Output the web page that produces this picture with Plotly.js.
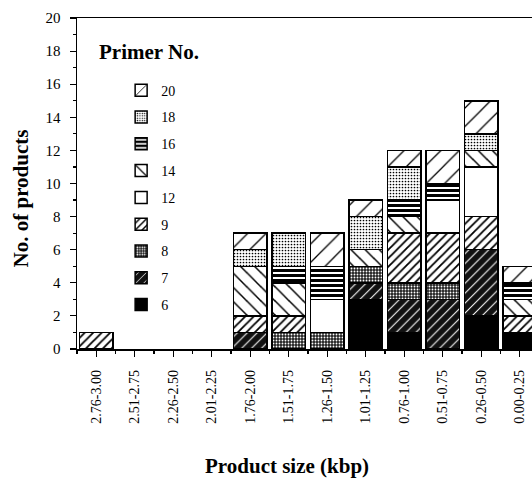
<!DOCTYPE html>
<html>
<head>
<meta charset="utf-8">
<script src="https://cdn.plot.ly/plotly-3.0.1.min.js"></script>
<style>
html,body{margin:0;padding:0;background:#fff;overflow:hidden;}
#chart{width:532px;height:479px;}
</style>
</head>
<body>
<div id="chart"></div>
<script>
// Product size classes (kbp)
const categories = ['2.76-3.00','2.51-2.75','2.26-2.50','2.01-2.25','1.76-2.00','1.51-1.75','1.26-1.50','1.01-1.25','0.76-1.00','0.51-0.75','0.26-0.50','0.00-0.25'];
// Number of products per primer (stacked bottom -> top: 6,7,8,9,12,14,16,18,20)
const primer6  = [null,null,null,null,null,null,null,3,1,null,2,1];
const primer7  = [null,null,null,null,1,null,null,1,2,3,4,null];
const primer8  = [null,null,null,null,null,1,1,1,1,1,null,null];
const primer9  = [1,null,null,null,1,1,null,null,3,3,2,1];
const primer12 = [null,null,null,null,null,null,2,null,null,2,3,null];
const primer14 = [null,null,null,null,3,2,null,1,1,null,1,1];
const primer16 = [null,null,null,null,null,1,2,null,1,1,null,1];
const primer18 = [null,null,null,null,1,2,null,2,2,null,1,null];
const primer20 = [null,null,null,null,1,null,2,1,1,2,2,1];
const primerNames = ['6','7','8','9','12','14','16','18','20'];
const yTicks = [0,2,4,6,8,10,12,14,16,18,20];

const series = [primer6,primer7,primer8,primer9,primer12,primer14,primer16,primer18,primer20];
const styles = {
  '6':  {color:'#000000', pattern:{shape:'', bgcolor:'#000000'}},
  '7':  {color:'#1a1a1a', pattern:{shape:'/', fgcolor:'#ffffff', bgcolor:'#111111', size:7, solidity:0.15}},
  '8':  {color:'#555555', pattern:{shape:'.', fgcolor:'#ffffff', bgcolor:'#222222', size:3, solidity:0.3}},
  '9':  {color:'#ffffff', pattern:{shape:'/', fgcolor:'#000000', bgcolor:'#ffffff', size:6, solidity:0.3}},
  '12': {color:'#ffffff', pattern:{shape:'', bgcolor:'#ffffff'}},
  '14': {color:'#ffffff', pattern:{shape:'\\', fgcolor:'#000000', bgcolor:'#ffffff', size:10, solidity:0.15}},
  '16': {color:'#000000', pattern:{shape:'-', fgcolor:'#000000', bgcolor:'#ffffff', size:5, solidity:0.6}},
  '18': {color:'#aaaaaa', pattern:{shape:'.', fgcolor:'#000000', bgcolor:'#ffffff', size:3, solidity:0.25}},
  '20': {color:'#ffffff', pattern:{shape:'/', fgcolor:'#000000', bgcolor:'#ffffff', size:13, solidity:0.1}}
};

const xIdx = categories.map((c,i)=>i);
const serif = 'Liberation Serif, Times New Roman, serif';

const traces = series.map((vals,k)=>{
  const name = primerNames[k];
  const st = styles[name];
  const pat = Object.assign({fillmode:'replace'}, st.pattern);
  return {
    type:'bar', x:xIdx, y:vals, name:name, legendgroup:'g'+name,
    legendrank: series.length - k,
    marker:{color:st.color, pattern:pat, line:{color:'#000', width:1.5}},
    hoverinfo:'skip'
  };
});

const layout = {
  width:532, height:479,
  margin:{l:77, r:0, t:18, b:130, pad:0},
  paper_bgcolor:'#fff', plot_bgcolor:'#fff',
  barmode:'stack', bargap:0.13,
  font:{family:serif, size:14, color:'#000'},
  showlegend:true,
  legend:{x:0.097, y:0.829, xanchor:'left', yanchor:'top', traceorder:'grouped',
          tracegroupgap:5.6, font:{family:serif, size:14, color:'#000'}, bgcolor:'rgba(0,0,0,0)'},
  xaxis:{range:[-0.5,11.32], tickmode:'array', tickvals:xIdx, ticktext:categories,
         tickangle:-90, ticks:'outside', ticklen:6, tickwidth:1.2, tickcolor:'#000',
         minor:{tick0:0.5, dtick:1, ticks:'outside', ticklen:3, tickwidth:1.2, tickcolor:'#000'},
         showline:true, linewidth:1.5, linecolor:'#000', mirror:true, showgrid:false, zeroline:false,
         ticklabelstandoff:8, tickfont:{family:serif, size:14, color:'#000'}, fixedrange:true},
  yaxis:{range:[0,20], tickmode:'array', tickvals:yTicks, ticks:'outside', ticklen:6, tickwidth:1.2, tickcolor:'#000',
         minor:{dtick:1, ticks:'outside', ticklen:3, tickwidth:1.2, tickcolor:'#000'},
         showline:true, linewidth:1.5, linecolor:'#000', showgrid:false, zeroline:false,
         ticklabelstandoff:6, tickfont:{family:serif, size:15, color:'#000'}, fixedrange:true},
  annotations:[
    {text:'<b>Product size (kbp)</b>', xref:'paper', yref:'paper', x:0.4615, y:-0.354, xanchor:'center', yanchor:'middle', showarrow:false, font:{family:serif, size:21, color:'#000'}},
    {text:'<b>No. of products</b>', xref:'paper', yref:'paper', x:-0.123, y:0.455, xanchor:'center', yanchor:'middle', textangle:-90, showarrow:false, font:{family:serif, size:21, color:'#000'}},
    {text:'<b>Primer No.</b>', xref:'paper', yref:'paper', x:0.044, y:0.897, xanchor:'left', yanchor:'middle', showarrow:false, font:{family:serif, size:21, color:'#000'}}
  ]
};

Plotly.newPlot('chart', traces, layout, {displayModeBar:false, staticPlot:true});
</script>
</body>
</html>
